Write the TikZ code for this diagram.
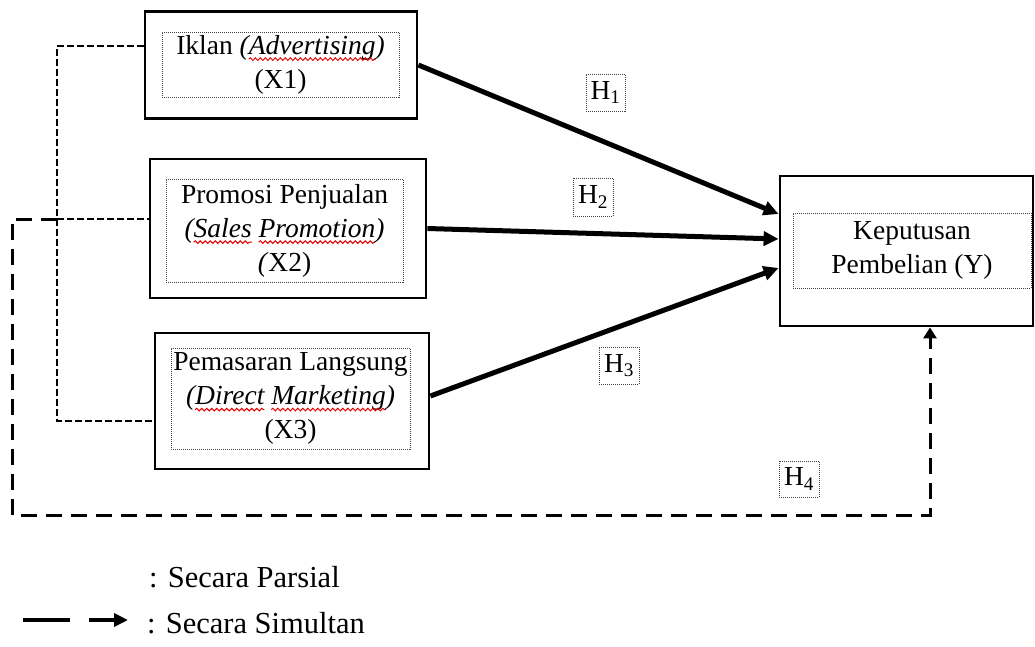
\documentclass[tikz,border=0pt]{standalone}
\usepackage{fontspec}
\setmainfont{Liberation Serif}
\usetikzlibrary{arrows.meta,calc,decorations.pathmorphing}
\newcommand\rw[1]{\tikz[baseline=(w.base)]{\node[draw=none,fill=none,inner sep=0pt,outer sep=0pt,minimum width=0pt,minimum height=0pt,font=,text=black] (w) {#1};\draw[overlay,red!90!black,solid,line width=1pt,decorate,decoration={snake,amplitude=1.3pt,segment length=5pt}] ([yshift=-5pt]w.base west) -- ([yshift=-5pt]w.base east);}}
\tikzset{
  outerbox/.style={draw, line width=2.8pt, inner sep=0pt},
  innerbox/.style={draw=black!75, line width=1pt, dash pattern=on 1pt off 1pt,
    inner sep=0pt, align=center, font=\fontsize{27.5}{34}\selectfont},
  partial/.style={line width=2.4pt, dash pattern=on 6.5pt off 3.5pt},
  simul/.style={line width=3pt, dash pattern=on 16pt off 9pt},
  parr/.style={line width=5pt, -{Triangle[length=15pt,width=14pt]}},
  legtext/.style={anchor=west, inner sep=0pt, font=\fontsize{30.5}{36}\selectfont}
}
\begin{document}
\begin{tikzpicture}[x=1pt,y=-1pt]
\useasboundingbox (0,0) rectangle (1035,646);
% outer boxes
\node[outerbox, minimum width=272pt, minimum height=107pt] (x1) at (281,65) {};
\node[outerbox, minimum width=276pt, minimum height=139pt] (x2) at (288,228.5) {};
\node[outerbox, minimum width=274pt, minimum height=136pt] (x3) at (292,401) {};
\node[outerbox, minimum width=253pt, minimum height=150pt] (y) at (906.5,251) {};
% inner text boxes
\node[innerbox, minimum width=237pt, minimum height=65pt] (x1t) at (280.5,64.5)
  {Iklan \textit{(\rw{Advertising})}\\(X1)};
\node[innerbox, minimum width=237pt, minimum height=103pt] (x2t) at (284.5,230.5)
  {Promosi Penjualan\\\textit{(\rw{Sales} \rw{Promotion})}\\\textit{(}X2)};
\node[innerbox, minimum width=239pt, minimum height=101pt] (x3t) at (290.5,398.5)
  {Pemasaran Langsung\\\textit{(\rw{Direct} \rw{Marketing})}\\(X3)};
\node[innerbox, minimum width=238pt, minimum height=75pt] (yt) at (912,250.5)
  {Keputusan\\Pembelian (Y)};
% hypothesis labels
\node[innerbox, minimum width=39pt, minimum height=37pt] (h1) at (605.5,92.5) {H\textsubscript{1}};
\node[innerbox, minimum width=40pt, minimum height=38pt] (h2) at (593,197) {H\textsubscript{2}};
\node[innerbox, minimum width=40pt, minimum height=37pt] (h3) at (619,365.5) {H\textsubscript{3}};
\node[innerbox, minimum width=40pt, minimum height=36pt] (h4) at (799,479) {H\textsubscript{4}};
% partial arrows
\draw[parr] (x1.east) -- ($(y.west)+(0,-37)$);
\draw[parr] (x2.east) -- ($(y.west)+(0,-12)$);
\draw[parr] ($(x3.east)+(0,-5)$) -- ($(y.west)+(0,17)$);
% grouping dashed lines
\coordinate (j1) at (57,46);
\coordinate (j2) at (57,219);
\coordinate (j3) at (57,421);
\draw[partial] (x1.west |- j1) -- (j1) -- (j3) -- (x3.west |- j3);
\draw[partial] (j2) -- (x2.west |- j2);
% simultaneous
\coordinate (c1) at (12,219);
\coordinate (c2) at (12,515);
\draw[simul, -{Triangle[length=11pt,width=13pt]}] (j2) -- (c1) -- (c2) -| ($(y.south)+(23.5,0)$);
% legend
\node[legtext] (lp) at (149,577) {: Secara Parsial};
\node[legtext] (ls) at (147,623) {: Secara Simultan};
\coordinate (la) at (23,620);
\draw[line width=4.5pt, dash pattern=on 47pt off 19pt, -{Triangle[length=14pt,width=13pt]}] (la) -- ($(ls.west)+(-19,-3)$);
\end{tikzpicture}
\end{document}
